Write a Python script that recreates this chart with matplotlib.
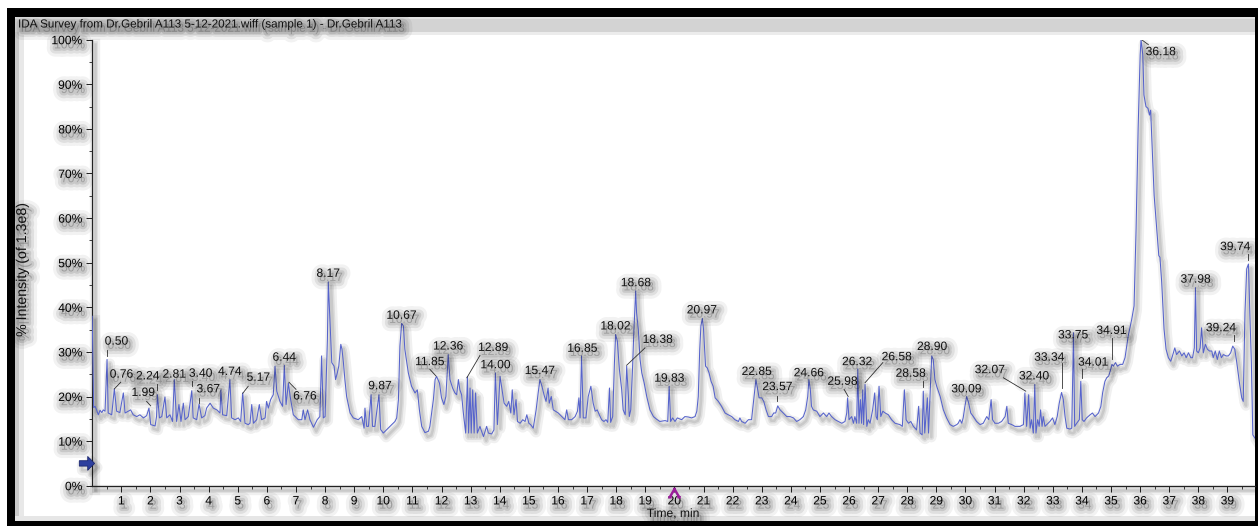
import numpy as np
import matplotlib
matplotlib.use("Agg")
import matplotlib.pyplot as plt
from matplotlib import patheffects as pe
from matplotlib.patches import Rectangle
from matplotlib.path import Path

plt.rcParams['font.family'] = ['Liberation Sans', 'DejaVu Sans']

# ---------------- data ----------------
time_min = [
    0.00, 0.05, 0.10, 0.15, 0.21, 0.27, 0.33, 0.38, 0.44, 0.51, 0.55, 0.67, 0.76, 0.84, 0.95,
    1.07, 1.13, 1.24, 1.32, 1.41, 1.53, 1.64, 1.76, 1.87, 1.95,
    2.01, 2.16, 2.21, 2.24, 2.31, 2.39, 2.50, 2.56, 2.67, 2.76, 2.82, 2.90, 2.98,
    3.05, 3.13, 3.19, 3.30, 3.42, 3.47, 3.59, 3.67, 3.76, 3.87, 3.93,
    4.05, 4.16, 4.28, 4.39, 4.42, 4.48, 4.62, 4.73, 4.79, 4.91,
    5.02, 5.10, 5.17, 5.25, 5.36, 5.42, 5.48, 5.54, 5.65, 5.74, 5.82, 5.94, 5.99,
    6.05, 6.13, 6.22, 6.28, 6.34, 6.45, 6.54, 6.60, 6.66, 6.74, 6.80, 6.91,
    7.08, 7.20, 7.25, 7.31, 7.40, 7.48, 7.60, 7.73, 7.82, 7.88, 7.94,
    8.00, 8.08, 8.11, 8.17, 8.23, 8.31, 8.36, 8.42, 8.47, 8.54, 8.58, 8.63, 8.68, 8.74, 8.86, 8.97,
    9.14, 9.26, 9.34, 9.37, 9.43, 9.49, 9.58, 9.63, 9.71, 9.85, 9.91,
    10.00, 10.12, 10.29, 10.40, 10.46, 10.52, 10.57, 10.63, 10.69, 10.74, 10.86, 10.97,
    11.09, 11.17, 11.24, 11.32, 11.43, 11.55, 11.60, 11.72, 11.78, 11.83, 11.93,
    12.00, 12.08, 12.15, 12.23, 12.29, 12.38, 12.46, 12.52, 12.58, 12.63, 12.69, 12.75, 12.83, 12.89, 12.93, 12.98,
    13.02, 13.07, 13.12, 13.17, 13.23, 13.32, 13.44, 13.55, 13.61, 13.72, 13.80, 13.85, 13.92,
    14.01, 14.08, 14.15, 14.24, 14.31, 14.38, 14.43, 14.49, 14.56, 14.61, 14.70, 14.79, 14.87, 14.93,
    15.00, 15.06, 15.15, 15.25, 15.32, 15.38, 15.45, 15.52, 15.59, 15.66, 15.70, 15.77, 15.84, 15.91,
    16.01, 16.13, 16.24, 16.30, 16.36, 16.47, 16.59, 16.67, 16.72, 16.76, 16.81, 16.87, 16.96,
    17.04, 17.13, 17.21, 17.28, 17.35, 17.42, 17.50, 17.58, 17.65, 17.71, 17.77, 17.81, 17.88, 17.94, 17.98,
    18.04, 18.11, 18.19, 18.24, 18.31, 18.36, 18.42, 18.45, 18.50, 18.56, 18.61, 18.67, 18.70, 18.76, 18.82, 18.88, 18.96,
    19.05, 19.16, 19.28, 19.39, 19.50, 19.68, 19.77, 19.82, 19.87, 19.94,
    20.02, 20.10, 20.25, 20.36, 20.48, 20.59, 20.71, 20.77, 20.82, 20.87, 20.91, 20.96,
    21.00, 21.07, 21.13, 21.19, 21.26, 21.33, 21.40, 21.51, 21.62, 21.74, 21.85, 21.97,
    22.08, 22.20, 22.25, 22.31, 22.43, 22.54, 22.65, 22.72, 22.80, 22.86, 22.91,
    23.00, 23.07, 23.15, 23.23, 23.34, 23.41, 23.48, 23.55, 23.63, 23.74, 23.86, 23.97,
    24.09, 24.20, 24.31, 24.43, 24.51, 24.58, 24.62, 24.67, 24.71, 24.77, 24.89,
    25.00, 25.12, 25.23, 25.31, 25.40, 25.52, 25.63, 25.75, 25.86, 25.92, 25.95,
    26.00, 26.09, 26.15, 26.20, 26.26, 26.30, 26.34, 26.39, 26.43, 26.47, 26.50, 26.55, 26.61, 26.66, 26.72, 26.81, 26.88, 26.93, 26.97,
    27.03, 27.09, 27.16, 27.24, 27.35, 27.46, 27.58, 27.75, 27.83, 27.90, 27.96,
    28.04, 28.12, 28.21, 28.32, 28.39, 28.44, 28.51, 28.55, 28.60, 28.64, 28.69, 28.73, 28.78, 28.84, 28.89, 28.95,
    29.01, 29.13, 29.24, 29.35, 29.47, 29.58, 29.70, 29.75, 29.81, 29.87, 29.92, 29.98,
    30.04, 30.11, 30.18, 30.27, 30.38, 30.50, 30.61, 30.73, 30.80, 30.88, 30.93,
    31.01, 31.13, 31.24, 31.36, 31.42, 31.47, 31.59, 31.70, 31.87, 31.99,
    32.04, 32.10, 32.17, 32.22, 32.27, 32.33, 32.38, 32.42, 32.48, 32.53, 32.58, 32.63, 32.67, 32.73, 32.79, 32.90, 32.99,
    33.07, 33.15, 33.22, 33.30, 33.36, 33.42, 33.48, 33.59, 33.65, 33.71, 33.75, 33.82, 33.91, 33.96,
    34.01, 34.07, 34.16, 34.28, 34.36, 34.45, 34.57, 34.65, 34.71, 34.79, 34.85, 34.92, 34.99,
    35.03, 35.08, 35.15, 35.22, 35.31, 35.40, 35.48, 35.59, 35.71, 35.79, 35.86, 35.93,
    36.00, 36.03, 36.09, 36.13, 36.20, 36.27, 36.32, 36.36, 36.41, 36.48, 36.57, 36.64, 36.68, 36.74, 36.82, 36.89, 36.97,
    37.05, 37.11, 37.19, 37.25, 37.35, 37.43, 37.51, 37.58, 37.66, 37.74, 37.80, 37.86, 37.90, 37.94,
    38.00, 38.06, 38.11, 38.17, 38.24, 38.31, 38.38, 38.46, 38.51, 38.58, 38.65, 38.72, 38.79, 38.86, 38.95,
    39.03, 39.11, 39.18, 39.25, 39.32, 39.41, 39.49, 39.54, 39.60, 39.66, 39.72, 39.77, 39.82, 39.87, 39.94,
]

intensity_pct = [
    38.0, 17.5, 17.8, 17.0, 15.9, 16.9, 16.4, 17.0, 16.7, 28.3, 16.3, 15.9, 21.7, 16.7, 16.4,
    20.8, 16.3, 16.7, 17.0, 15.9, 15.5, 15.9, 15.2, 15.7, 17.4,
    13.7, 13.4, 15.5, 20.4, 15.2, 15.5, 19.9, 15.2, 15.9, 14.4, 23.8, 14.4, 18.2,
    14.4, 18.5, 14.8, 15.5, 21.3, 15.2, 14.8, 18.3, 15.2, 15.7, 17.4,
    18.5, 17.4, 17.0, 16.3, 21.5, 15.9, 15.7, 23.8, 15.2, 14.8,
    15.2, 14.4, 20.8, 14.0, 13.7, 14.0, 18.2, 14.0, 14.8, 18.2, 14.8, 15.2, 18.9,
    17.4, 19.3, 20.4, 26.8, 21.2, 18.9, 17.8, 27.0, 18.2, 23.0, 20.0, 15.9,
    14.8, 14.8, 17.0, 14.8, 17.0, 14.8, 13.1, 14.8, 15.5, 29.1, 15.2,
    15.5, 32.8, 45.7, 36.6, 27.6, 26.8, 23.8, 25.3, 26.8, 31.7, 30.6, 27.6, 23.8, 20.0, 16.3, 15.2,
    14.8, 15.5, 12.9, 17.4, 13.3, 13.3, 20.4, 13.3, 13.3, 20.4, 12.6,
    11.8, 12.6, 13.7, 14.4, 15.2, 19.3, 31.3, 36.4, 35.8, 30.6, 25.3, 22.3,
    20.8, 21.5, 17.0, 13.3, 11.9, 12.2, 13.3, 19.3, 23.8, 24.5, 23.0,
    19.7, 18.2, 20.0, 29.4, 23.8, 21.9, 20.8, 20.4, 23.8, 21.5, 20.4, 16.3, 11.8, 24.5, 11.8, 21.9,
    11.8, 21.5, 11.8, 20.8, 11.8, 13.3, 11.0, 13.3, 11.8, 11.6, 12.5, 25.3, 13.7,
    24.5, 21.5, 18.5, 17.8, 18.9, 16.3, 21.5, 15.9, 19.3, 14.4, 14.0, 14.8, 14.4, 15.9,
    14.0, 13.7, 12.9, 17.0, 20.8, 23.8, 22.3, 20.4, 18.9, 21.9, 18.5, 20.0, 17.0, 16.7,
    16.3, 15.5, 14.8, 17.0, 14.8, 14.8, 15.5, 16.7, 19.7, 15.2, 29.1, 15.2, 15.2,
    20.0, 22.3, 18.5, 16.7, 17.0, 15.9, 14.8, 14.4, 14.8, 14.2, 21.9, 14.2, 15.5, 27.6, 33.9,
    32.4, 26.1, 21.5, 17.0, 15.9, 26.8, 20.0, 15.5, 17.0, 26.1, 35.1, 43.7, 38.8, 35.1, 28.3, 25.3, 23.1,
    20.0, 17.0, 15.5, 14.9, 14.4, 14.6, 14.4, 22.3, 14.4, 15.2,
    14.4, 15.2, 14.8, 15.5, 15.4, 15.2, 15.5, 16.7, 20.0, 30.6, 35.8, 37.5,
    35.1, 26.8, 26.4, 25.3, 23.4, 22.3, 19.7, 18.9, 17.8, 16.3, 15.9, 15.5,
    14.8, 14.4, 15.2, 14.4, 14.0, 14.8, 14.8, 18.9, 23.8, 21.5, 19.7,
    19.7, 18.9, 17.0, 15.5, 15.5, 16.3, 16.3, 17.9, 17.0, 16.3, 15.5, 15.5,
    15.2, 14.4, 14.8, 15.5, 17.0, 20.0, 23.8, 21.5, 17.8, 17.0, 16.7,
    15.5, 16.3, 15.5, 16.3, 15.5, 14.8, 14.4, 14.0, 14.4, 16.3, 19.7,
    14.8, 15.5, 14.0, 15.5, 14.0, 26.2, 14.0, 19.3, 14.0, 21.5, 13.7, 22.7, 13.3, 14.8, 14.0, 17.0, 20.8, 15.5, 14.8,
    22.3, 15.5, 16.7, 16.3, 15.9, 14.8, 14.0, 13.7, 13.3, 21.5, 14.8,
    14.0, 14.4, 13.3, 12.5, 17.8, 11.8, 11.4, 21.2, 11.8, 15.5, 19.7, 11.8, 20.0, 29.1, 28.3, 23.8,
    22.3, 20.0, 17.0, 15.2, 13.7, 13.3, 13.7, 14.0, 14.8, 14.0, 15.2, 17.8,
    20.0, 18.5, 16.3, 15.5, 14.4, 13.7, 14.0, 15.5, 14.8, 19.3, 14.8,
    14.0, 14.0, 14.4, 15.5, 17.8, 14.0, 13.7, 13.3, 13.3, 13.7,
    20.8, 13.3, 20.4, 12.9, 14.8, 11.8, 22.7, 11.8, 14.8, 13.3, 17.0, 13.3, 15.5, 13.3, 13.7, 14.4, 15.2,
    13.7, 15.5, 18.5, 20.9, 19.3, 15.5, 12.9, 12.7, 12.9, 34.3, 13.3, 14.0, 14.8, 23.4,
    14.8, 14.4, 15.2, 15.9, 16.3, 15.5, 16.3, 17.8, 20.8, 23.4, 24.2, 24.6, 26.1,
    27.2, 26.8, 27.6, 26.8, 27.2, 27.2, 28.7, 33.6, 37.3, 40.3, 57.6, 80.1,
    96.6, 100.0, 96.6, 87.6, 85.0, 84.6, 83.1, 84.2, 76.3, 65.1, 57.6, 51.6, 51.2, 45.6, 35.1, 30.6, 28.7,
    27.9, 29.1, 30.9, 29.4, 30.2, 29.1, 29.8, 28.7, 29.8, 28.7, 28.7, 30.9, 44.4, 30.2,
    29.8, 30.9, 35.4, 29.8, 31.7, 30.6, 30.2, 30.2, 28.7, 30.2, 28.3, 30.2, 28.7, 29.4, 29.1,
    29.1, 29.8, 31.3, 30.6, 27.6, 23.1, 19.7, 18.9, 38.8, 48.6, 49.7, 38.1, 27.6, 11.4, 10.7,
]

peak_labels = ["0.50", "0.76", "1.99", "2.24", "2.81", "3.40", "3.67", "4.74", "5.17",
               "6.44", "6.76", "8.17", "9.87", "10.67", "11.85", "12.36", "12.89", "14.00",
               "15.47", "16.85", "18.02", "18.68", "18.38", "19.83", "20.97", "22.85",
               "23.57", "24.66", "25.98", "26.32", "26.58", "28.58", "28.90", "30.09",
               "32.07", "32.40", "33.34", "33.75", "34.01", "34.91", "36.18", "37.98",
               "39.24", "39.74"]
label_t = [0.84, 1.01, 1.76, 1.91, 2.82, 3.73, 3.99, 4.73, 5.71,
           6.60, 7.31, 8.11, 9.89, 10.63, 11.60, 12.23, 13.78, 13.86,
           15.38, 16.84, 17.98, 18.68, 19.43, 19.83, 20.95, 22.83,
           23.54, 24.62, 25.78, 26.28, 27.64, 28.12, 28.86, 30.04,
           30.84, 32.36, 32.88, 33.70, 34.39, 35.02, 36.71, 37.91,
           38.78, 39.27]
label_i = [32.3, 24.9, 20.8, 24.5, 24.9, 25.1, 21.6, 25.5, 24.2,
           28.7, 20.0, 47.5, 22.3, 38.1, 27.7, 31.2, 30.9, 27.0,
           25.7, 30.7, 35.7, 45.4, 32.7, 24.0, 39.3, 25.5,
           22.1, 25.2, 23.3, 27.7, 28.8, 25.1, 31.1, 21.6,
           25.9, 24.5, 28.7, 33.7, 27.6, 34.7, 97.2, 46.2,
           35.3, 53.5]

# leader lines from label to peak: (t_start, i_start, t_end, i_end)
leader_t0 = [0.50, 0.98, 1.87, 2.24, 3.42, 3.67, 5.36, 7.00, 11.60, 13.32, 18.99, 23.54,
             25.83, 27.16, 28.55, 31.30, 33.33, 33.99, 35.04, 36.28, 39.23, 39.72]
leader_i0 = [30.5, 23.2, 18.9, 22.9, 23.4, 19.7, 22.3, 21.6, 26.1, 29.2, 30.9, 20.2,
             21.6, 27.6, 23.4, 24.2, 27.6, 26.1, 33.2, 98.9, 33.9, 52.0]
leader_t1 = [0.50, 0.76, 2.01, 2.24, 3.42, 3.67, 5.17, 6.76, 11.81, 12.87, 18.36, 23.54,
             25.97, 26.55, 28.55, 32.07, 33.33, 33.99, 35.04, 36.05, 39.23, 39.72]
leader_i1 = [29.1, 21.7, 17.9, 21.5, 22.3, 18.6, 20.7, 23.2, 24.6, 24.2, 27.0, 18.9,
             20.0, 23.1, 22.2, 21.2, 21.9, 24.2, 28.3, 100.0, 32.4, 50.5]

x_ticks = list(range(1, 40))
y_ticks = list(range(0, 101, 10))
y_tick_labels = [f"{v}%" for v in y_ticks]

title_text = "IDA Survey from Dr.Gebril A113 5-12-2021.wiff (sample 1) - Dr.Gebril A113"
x_label = "Time, min"
y_label = "% Intensity (of 1.3e8)"

assert len(time_min) == len(intensity_pct)

# ---------------- figure ----------------
W, H = 1258, 526
fig = plt.figure(figsize=(W / 100, H / 100), dpi=100)
fig.patch.set_facecolor("white")


def px_rect(x0, y0, x1, y1, **kw):
    r = Rectangle((x0 / W, 1 - y1 / H), (x1 - x0) / W, (y1 - y0) / H,
                  transform=fig.transFigure, zorder=-5, **kw)
    fig.add_artist(r)


# window frame
px_rect(7, 8, 1258, 17, color="black", lw=0)
px_rect(7, 8, 15, 526, color="black", lw=0)
px_rect(7, 521, 1258, 526, color="black", lw=0)
px_rect(1255, 8, 1258, 526, color="black", lw=0)
px_rect(15, 17, 1255, 32, color="#d3d3d3", lw=0)
px_rect(15, 17, 1255, 19, color="#e2e2e2", lw=0)
px_rect(15, 32, 1255, 35, color="#ececec", lw=0)
px_rect(15, 32, 19, 521, color="#c9c9c9", lw=0)
px_rect(19, 32, 24, 521, color="#e8e8e8", lw=0)
px_rect(15, 516, 1255, 521, color="#e6e6e6", lw=0)

txt_shadow = [pe.Stroke(linewidth=12, foreground="k", alpha=0.05, offset=(2, -3)),
              pe.Stroke(linewidth=7.5, foreground="k", alpha=0.08, offset=(2, -3)),
              pe.Stroke(linewidth=3.5, foreground="k", alpha=0.10, offset=(2, -3)),
              pe.Normal()]
line_shadow = [pe.SimpleLineShadow(offset=(2, -3), shadow_color="k", alpha=0.06, linewidth=7.5),
               pe.SimpleLineShadow(offset=(2, -3), shadow_color="k", alpha=0.08, linewidth=4),
               pe.SimpleLineShadow(offset=(2, -3), shadow_color="k", alpha=0.09, linewidth=1.8),
               pe.Normal()]

FS = 8.7
x0, x1 = 92.2, 1255.0
y0, y1 = 485.7, 39.7
ax = fig.add_axes([x0 / W, 1 - y0 / H, (x1 - x0) / W, (y0 - y1) / H])
ax.set_facecolor("none")
xmax = (x1 - x0) / 29.11
ax.set_xlim(0, xmax)
ax.set_ylim(0, 100)

ax.plot(time_min, intensity_pct, color="#5663cc", lw=0.75, path_effects=line_shadow,
        zorder=3)

for lab, tx, ty in zip(peak_labels, label_t, label_i):
    ax.text(tx, ty, lab, ha="center", va="center", fontsize=FS, color="#111111",
            path_effects=txt_shadow, zorder=5)

for a, b, c, d in zip(leader_t0, leader_i0, leader_t1, leader_i1):
    ax.plot([a, c], [b, d], color="#333333", lw=0.6, zorder=4)

# spines & ticks
for s in ("top", "right"):
    ax.spines[s].set_visible(False)
for s in ("left", "bottom"):
    ax.spines[s].set_linewidth(0.9)
    ax.spines[s].set_color("#222222")
    ax.spines[s].set_path_effects(line_shadow)

ax.set_xticks(x_ticks)
ax.set_xticks(np.arange(0.5, xmax, 0.5), minor=True)
ax.set_yticks(y_ticks)
ax.set_yticklabels(y_tick_labels)
ax.set_yticks(np.arange(5, 100, 10), minor=True)
ax.tick_params(axis="both", which="major", direction="out", length=4, width=0.7,
               labelsize=FS, pad=3, color="#222222")
ax.tick_params(axis="both", which="minor", direction="out", length=2.5, width=0.6,
               color="#222222")
for lbl in ax.get_xticklabels() + ax.get_yticklabels():
    lbl.set_path_effects(txt_shadow)

# blue arrow marker on y axis (at 5%)
arrow = Path([(-1, -0.35), (0.1, -0.35), (0.1, -0.9), (1, 0), (0.1, 0.9),
              (0.1, 0.35), (-1, 0.35), (-1, -0.35)],
             [Path.MOVETO] + [Path.LINETO] * 6 + [Path.CLOSEPOLY])
ax.plot([-0.18], [5.0], marker=arrow, markersize=11, color="#2d3f9e",
        markeredgecolor="#1c2870", mew=0.6, clip_on=False, zorder=6,
        path_effects=line_shadow)

# magenta cursor marker at t = 20 below the axis
cursor = Path([(-1, -1), (0, 0.7), (1, -1), (-1.3, -1), (-0.6, -1), (0.6, -1), (1.3, -1),
               (0, 0.7), (0, 1.0)],
              [Path.MOVETO, Path.LINETO, Path.LINETO, Path.MOVETO, Path.LINETO,
               Path.MOVETO, Path.LINETO, Path.MOVETO, Path.LINETO])
ax.plot([20.0], [-1.4], marker=cursor, markersize=9, color="#9a1e9a", mew=1.8,
        fillstyle="none", clip_on=False, zorder=6)

# texts
fig.text(18 / W, 1 - 24.5 / H, title_text, ha="left", va="center", fontsize=8.4,
         color="#111111", path_effects=txt_shadow)
fig.text(22 / W, 1 - 270 / H, y_label, ha="center", va="center", rotation=90,
         fontsize=10.2, color="#111111", path_effects=txt_shadow)
fig.text(673 / W, 1 - 514 / H, x_label, ha="center", va="center", fontsize=FS,
         color="#111111", path_effects=txt_shadow)

fig.savefig("out.png", dpi=100, facecolor="white")
